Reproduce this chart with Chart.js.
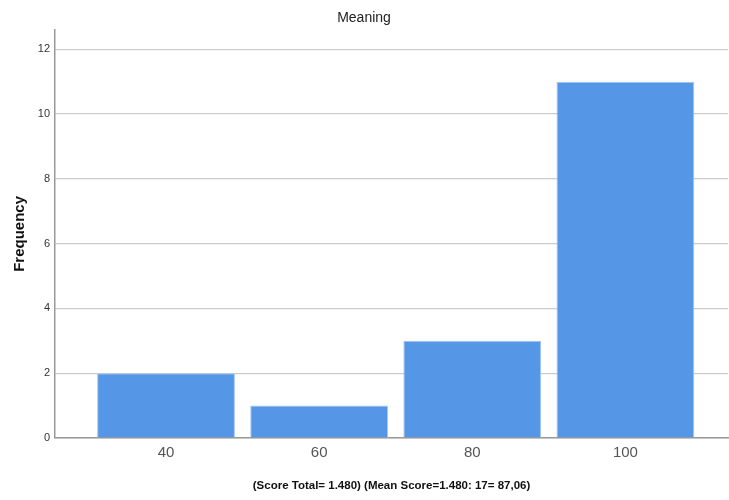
<!DOCTYPE html>
<html>
<head>
<meta charset="utf-8">
<script src="https://cdn.jsdelivr.net/npm/chart.js@4"></script>
<style>
  html, body { margin: 0; padding: 0; background: #ffffff; }
  #wrap { width: 729px; height: 500px; }
</style>
</head>
<body>
<div id="wrap"><canvas id="chart" width="729" height="500"></canvas></div>
<script>
// Score bins and how many responses fell in each
const scores = [40, 60, 80, 100];
const frequencies = [2, 1, 3, 11];
const yTicks = [0, 2, 4, 6, 8, 10, 12];

const chartTitle = 'Meaning';
const yTitle = 'Frequency';
const xTitle = '(Score Total= 1.480) (Mean Score=1.480: 17= 87,06)';

const points = scores.map((s, i) => ({ x: s, y: frequencies[i] }));

new Chart(document.getElementById('chart'), {
  type: 'bar',
  data: {
    datasets: [{
      data: points,
      backgroundColor: '#5596e6',
      borderColor: '#a3c5f0',
      borderWidth: 1,
      barPercentage: 0.9,
      categoryPercentage: 1.0
    }]
  },
  options: {
    responsive: false,
    animation: false,
    layout: { padding: { left: 0, right: 1, top: 0, bottom: 0 } },
    plugins: {
      legend: { display: false },
      tooltip: { enabled: false },
      title: {
        display: true,
        text: chartTitle,
        color: '#222222',
        font: { family: '"Liberation Sans Narrow", "Liberation Sans", Arial, sans-serif', size: 14, weight: 'normal' },
        padding: { top: 10, bottom: 3 }
      }
    },
    scales: {
      x: {
        type: 'linear',
        offset: false,
        min: 25.5,
        max: 113.4,
        afterBuildTicks: (scale) => { scale.ticks = scores.map(v => ({ value: v })); },
        afterFit: (scale) => { scale.height = 62; },
        grid: { display: false, drawTicks: false },
        border: { display: true, color: '#9a9a9a', width: 1.5 },
        ticks: {
          padding: 6,
          color: '#555555',
          autoSkip: false,
          maxRotation: 0,
          font: { family: '"Liberation Sans", Arial, sans-serif', size: 15 },
          callback: (v) => String(v)
        },
        title: {
          display: true,
          text: xTitle,
          color: '#111111',
          font: { family: '"Liberation Sans Narrow", "Liberation Sans", Arial, sans-serif', size: 11.5, weight: 'bold' },
          padding: { top: 4, bottom: 7 }
        }
      },
      y: {
        min: 0,
        max: 12.6,
        afterBuildTicks: (scale) => { scale.ticks = yTicks.map(v => ({ value: v })); },
        afterFit: (scale) => { scale.width = 55; },
        grid: { color: '#cccccc', lineWidth: 1.2, drawTicks: false },
        border: { display: true, color: '#9a9a9a', width: 1.5 },
        ticks: {
          padding: 5,
          color: '#333333',
          font: { family: '"Liberation Sans Narrow", "Liberation Sans", Arial, sans-serif', size: 11 },
          callback: (v) => String(v)
        },
        title: {
          display: true,
          text: yTitle,
          color: '#111111',
          font: { family: '"Liberation Sans", Arial, sans-serif', size: 15, weight: 'bold' },
          padding: { top: 11, bottom: 11 }
        }
      }
    }
  }
});
</script>
</body>
</html>
